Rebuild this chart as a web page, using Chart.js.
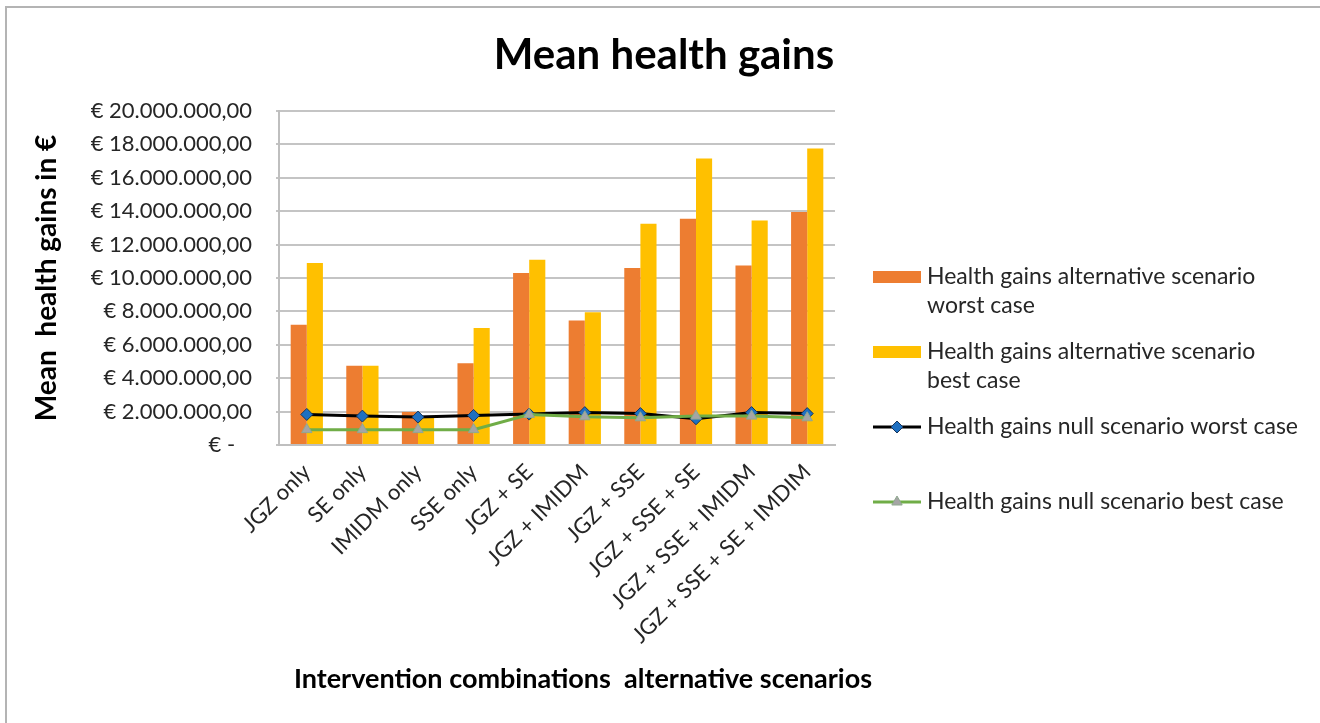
<!DOCTYPE html>
<html>
<head>
<meta charset="utf-8">
<title>Mean health gains</title>
<script src="https://cdn.jsdelivr.net/npm/chart.js@4/dist/chart.umd.min.js"></script>
<style>
  html, body { margin: 0; padding: 0; background: #fff; }
  #frame {
    position: absolute; left: 5px; top: 6px; width: 1330px; height: 730px;
    border-left: 2px solid #b4b4b4; border-top: 2px solid #b4b4b4;
  }
  #wrap { position: absolute; left: 0; top: 0; width: 1320px; height: 723px; }
</style>
</head>
<body>
<div id="frame"></div>
<div id="wrap"><canvas id="gainsChart" width="1320" height="723"></canvas></div>
<script>
// intervention combinations on the x axis
var labels = ['JGZ only', 'SE only', 'IMIDM only', 'SSE only', 'JGZ + SE', 'JGZ + IMIDM',
  'JGZ + SSE', 'JGZ + SSE + SE', 'JGZ + SSE + IMIDM', 'JGZ + SSE + SE + IMDIM'];

// mean health gains in euro
var altWorst = [7200000, 4750000, 1980000, 4900000, 10300000, 7450000, 10600000, 13550000, 10750000, 13950000];
var altBest = [10900000, 4750000, 1650000, 7000000, 11100000, 7950000, 13250000, 17150000, 13450000, 17750000];
var nullWorst = [1830000, 1730000, 1670000, 1770000, 1850000, 1940000, 1880000, 1570000, 1940000, 1880000];
var nullBest = [920000, 920000, 920000, 920000, 1830000, 1690000, 1630000, 1730000, 1730000, 1630000];

var yTicks = [0, 2000000, 4000000, 6000000, 8000000, 10000000, 12000000, 14000000, 16000000, 18000000, 20000000];

var FONT = 'Lato, "Open Sans", sans-serif';

function euro(v) {
  if (v === 0) return '€ -   ';
  var s = String(Math.round(v)).replace(/\B(?=(\d{3})+(?!\d))/g, '.');
  return '€ ' + s + ',00';
}

// title, x axis title and the legend on the right
var extras = {
  id: 'extras',
  afterDraw: function(chart) {
    var c = chart.ctx;
    c.save();
    c.fillStyle = '#000';
    c.textAlign = 'center';
    c.textBaseline = 'alphabetic';
    c.font = 'bold 42px ' + FONT;
    c.fillText('Mean health gains', 664, 69);
    c.font = 'bold 27px ' + FONT;
    c.fillText('Intervention combinations  alternative scenarios', 583, 688);

    // legend
    var rows = [277, 352, 427, 502];
    c.font = '23px ' + FONT;
    c.textAlign = 'left';
    c.textBaseline = 'middle';
    chart.data.datasets.forEach(function(ds, i) {
      var y = rows[i];
      if (ds.type === 'line') {
        c.strokeStyle = ds.borderColor;
        c.lineWidth = 3;
        c.beginPath(); c.moveTo(873, y); c.lineTo(921, y); c.stroke();
        c.fillStyle = ds.pointBackgroundColor;
        c.strokeStyle = ds.pointBorderColor;
        c.lineWidth = 1;
        Chart.helpers.drawPoint(c, {
          pointStyle: ds.pointStyle, radius: ds.pointRadius, borderWidth: 1
        }, 897, y);
      } else {
        c.fillStyle = ds.backgroundColor;
        c.fillRect(873, y - 6, 48, 12);
      }
      // wrap the label
      var words = ds.label.split(' ');
      var lines = [], cur = '';
      words.forEach(function(w) {
        var t = cur ? cur + ' ' + w : w;
        if (c.measureText(t).width > 374 && cur) { lines.push(cur); cur = w; } else { cur = t; }
      });
      lines.push(cur);
      c.fillStyle = '#262626';
      lines.forEach(function(l, k) { c.fillText(l, 927, y + k * 29); });
    });
    c.restore();
  }
};

var ctx = document.getElementById('gainsChart');
var gainsChart = new Chart(ctx, {
  type: 'bar',
  data: {
    labels: labels,
    datasets: [{
      label: 'Health gains alternative scenario worst case',
      data: altWorst,
      backgroundColor: '#ED7D31',
      categoryPercentage: 0.58,
      barPercentage: 1.0,
      order: 2
    }, {
      label: 'Health gains alternative scenario best case',
      data: altBest,
      backgroundColor: '#FFC000',
      categoryPercentage: 0.58,
      barPercentage: 1.0,
      order: 2
    }, {
      type: 'line',
      label: 'Health gains null scenario worst case',
      data: nullWorst,
      borderColor: '#000000',
      borderWidth: 3,
      pointStyle: 'rectRot',
      pointRadius: 6,
      pointBackgroundColor: '#1F70C1',
      pointBorderColor: '#17365D',
      pointBorderWidth: 1,
      tension: 0,
      order: 1
    }, {
      type: 'line',
      label: 'Health gains null scenario best case',
      data: nullBest,
      borderColor: '#70AD47',
      borderWidth: 3,
      pointStyle: 'triangle',
      pointRadius: 6,
      pointBackgroundColor: '#A5A5A5',
      pointBorderColor: '#8FA88F',
      pointBorderWidth: 1,
      tension: 0,
      order: 0
    }]
  },
  options: {
    responsive: false,
    animation: false,
    layout: { padding: { left: 28, top: 111, right: 485, bottom: 0 } },
    plugins: {
      legend: { display: false },
      title: { display: false },
      tooltip: { enabled: false }
    },
    scales: {
      x: {
        offset: true,
        grid: { display: false },
        border: { display: true, color: '#bfbfbf', width: 2 },
        ticks: {
          autoSkip: false, maxRotation: 45, minRotation: 45,
          color: '#262626', font: { family: FONT, size: 22 }, padding: 6
        },
        afterFit: function(s) { s.height = 278; }
      },
      y: {
        min: 0, max: 20000000,
        afterBuildTicks: function(s) { s.ticks = yTicks.map(function(v) { return { value: v }; }); },
        grid: { color: '#c4c4c4', lineWidth: 2, tickLength: 3 },
        border: { display: true, color: '#bfbfbf', width: 2 },
        ticks: {
          color: '#262626', font: { family: FONT, size: 22 }, padding: 24,
          callback: function(v) { return euro(v); }
        },
        title: {
          display: true, text: 'Mean  health gains in €', color: '#000',
          font: { family: FONT, size: 28, weight: 'bold' }, padding: { top: 2, bottom: 4 }
        },
        afterFit: function(s) { s.width = 251; }
      }
    }
  },
  plugins: [extras]
});
</script>
</body>
</html>
